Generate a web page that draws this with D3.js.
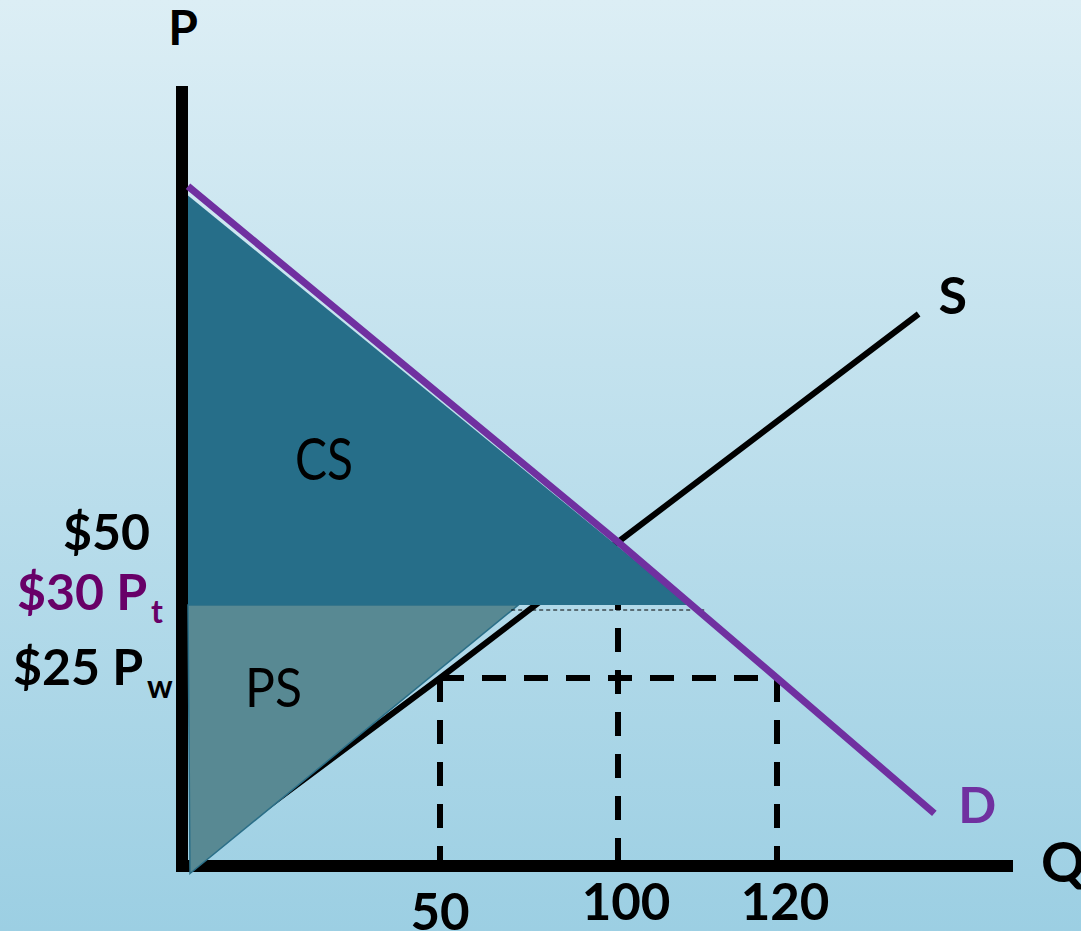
<!DOCTYPE html>
<html>
<head>
<meta charset="utf-8">
<script src="https://cdn.jsdelivr.net/npm/d3@7"></script>
<style>
  html, body { margin: 0; padding: 0; overflow: hidden; }
  svg { display: block; }
  text { font-family: Lato, "Open Sans", sans-serif; }
</style>
</head>
<body>
<div id="chart"></div>
<script>
// Values (quantity Q, price P)
const qTicks = [50, 100, 120];
const qTickLabels = ['50', '100', '120'];

const priceTicks = [50, 30, 25];
const priceLabels = ['$50', '$30 P', '$25 P'];
const priceSubs = ['', 't', 'w'];

const demandQ = [0, 100, 120, 140];
const demandP = [89, 50, 25, 7];

const supplyQ = [0, 50, 100, 138];
const supplyP = [0, 25, 50, 75];

const worldPrice = 25;
const tariffPrice = 30;
const qsWorld = 50, qdWorld = 120;
const qsTariff = 72, qdTariff = 109;
const qEquilibrium = 100;

// consumer / producer surplus triangles
const csQ = [0, qdTariff, 0];
const csP = [88, tariffPrice, tariffPrice];
const psQ = [0, qsTariff, 0.4];
const psP = [tariffPrice, tariffPrice, -1];

const config = {
  width: 1081,
  height: 931,
  // hand-drawn diagram: axes are not evenly spaced, so piecewise scales
  xDomain: [0, 50, 100, 120, 150],
  xRange: [188, 440, 618, 777, 1013],
  yDomain: [0, 25, 30, 50, 100],
  yRange: [866, 678, 605, 542, 86],
  purple: '#7030a0',
  darkPurple: '#680068',
  csFill: '#266e89',
  psFill: '#588993'
};

const svg = d3.select('#chart').append('svg')
    .attr('width', config.width)
    .attr('height', config.height);

// Background gradient
const grad = svg.append('defs').append('linearGradient')
    .attr('id', 'bg')
    .attr('x1', 0).attr('y1', 0).attr('x2', 0).attr('y2', 1);
grad.append('stop').attr('offset', 0).attr('stop-color', '#dceef5');
grad.append('stop').attr('offset', 1).attr('stop-color', '#9ccfe3');

svg.append('rect')
    .attr('width', config.width)
    .attr('height', config.height)
    .attr('fill', 'url(#bg)');

const x = d3.scaleLinear().domain(config.xDomain).range(config.xRange);
const y = d3.scaleLinear().domain(config.yDomain).range(config.yRange);

const zip = (qs, ps) => qs.map((q, i) => ({q: q, p: ps[i]}));
const line = d3.line().x(d => x(d.q)).y(d => y(d.p));

// Supply curve (drawn first, surplus areas cover part of it)
svg.append('path')
    .attr('d', line(zip(supplyQ, supplyP)))
    .attr('fill', 'none')
    .attr('stroke', '#000')
    .attr('stroke-width', 6);

// Axes
svg.append('line')
    .attr('x1', x(0) - 6).attr('x2', x(0) - 6)
    .attr('y1', y(100)).attr('y2', y(0) + 6)
    .attr('stroke', '#000').attr('stroke-width', 12);

svg.append('line')
    .attr('x1', x(0) - 12).attr('x2', x(150))
    .attr('y1', y(0)).attr('y2', y(0))
    .attr('stroke', '#000').attr('stroke-width', 12);

// Surplus areas
svg.append('path')
    .attr('d', line(zip(psQ, psP)) + 'Z')
    .attr('fill', config.psFill)
    .attr('stroke', '#2b6f88')
    .attr('stroke-width', 1.5);

svg.append('path')
    .attr('d', line(zip(csQ, csP)) + 'Z')
    .attr('fill', config.csFill);

// Thin dotted line at tariff price
svg.append('line')
    .attr('x1', x(70)).attr('x2', x(111))
    .attr('y1', y(tariffPrice) + 5).attr('y2', y(tariffPrice) + 5)
    .attr('stroke', '#000')
    .attr('stroke-width', 1)
    .attr('stroke-dasharray', '4,3');

// Dashed guides
const dashed = svg.append('g')
    .attr('stroke', '#000')
    .attr('stroke-width', 6)
    .attr('stroke-dasharray', '24,18');

dashed.append('line')
    .attr('x1', x(qsWorld)).attr('x2', x(qdWorld))
    .attr('y1', y(worldPrice)).attr('y2', y(worldPrice));

dashed.append('line')
    .attr('x1', x(qsWorld)).attr('x2', x(qsWorld))
    .attr('y1', y(worldPrice)).attr('y2', y(0));

dashed.append('line')
    .attr('x1', x(qdWorld)).attr('x2', x(qdWorld))
    .attr('y1', y(worldPrice)).attr('y2', y(0));

dashed.append('line')
    .attr('x1', x(qEquilibrium)).attr('x2', x(qEquilibrium))
    .attr('y1', y(tariffPrice)).attr('y2', y(0))
    .attr('stroke-dashoffset', 19);

// Demand curve
svg.append('path')
    .attr('d', line(zip(demandQ, demandP)))
    .attr('fill', 'none')
    .attr('stroke', config.purple)
    .attr('stroke-width', 7);

// Axis titles
svg.append('text')
    .attr('x', x(0) - 5).attr('y', 45)
    .attr('text-anchor', 'middle')
    .attr('font-size', 48).attr('font-weight', 700)
    .text('P');

svg.append('text')
    .attr('x', x(150) + 28).attr('y', y(0) + 16)
    .attr('font-size', 55).attr('font-weight', 700)
    .text('Q');

// Curve labels
const sEnd = supplyQ.length - 1;
svg.append('text')
    .attr('x', x(supplyQ[sEnd]) + 20).attr('y', y(supplyP[sEnd]))
    .attr('font-size', 52).attr('font-weight', 700)
    .text('S');

const dEnd = demandQ.length - 1;
svg.append('text')
    .attr('x', x(demandQ[dEnd]) + 24).attr('y', y(demandP[dEnd]) + 10)
    .attr('font-size', 50).attr('font-weight', 700)
    .attr('fill', config.purple)
    .text('D');

// Area labels
svg.append('text')
    .attr('x', 295).attr('y', 480)
    .attr('font-size', 58)
    .attr('textLength', 58).attr('lengthAdjust', 'spacingAndGlyphs')
    .text('CS');

svg.append('text')
    .attr('x', 245).attr('y', 707)
    .attr('font-size', 54)
    .attr('textLength', 57).attr('lengthAdjust', 'spacingAndGlyphs')
    .text('PS');

// Quantity tick labels
svg.selectAll('.q-label')
    .data(qTicks)
  .join('text')
    .attr('class', 'q-label')
    .attr('x', d => x(d) + (d === 50 ? 0 : 8))
    .attr('y', d => d === 50 ? 930 : 920)
    .attr('text-anchor', 'middle')
    .attr('font-size', 51).attr('font-weight', 700)
    .text((d, i) => qTickLabels[i]);

// Price tick labels
const priceStartX = [63, 17, 13];
const priceLbl = svg.selectAll('.p-label')
    .data(priceTicks)
  .join('text')
    .attr('class', 'p-label')
    .attr('x', (d, i) => priceStartX[i])
    .attr('y', d => y(d) + (d === 50 ? 8 : d === 30 ? 5 : 7))
    .attr('font-size', 50).attr('font-weight', 700)
    .attr('fill', d => d === tariffPrice ? config.darkPurple : '#000');

priceLbl.append('tspan')
    .text((d, i) => priceLabels[i]);

priceLbl.append('tspan')
    .attr('dy', 13)
    .attr('dx', 4)
    .attr('font-size', 32)
    .text((d, i) => priceSubs[i]);
</script>
</body>
</html>
